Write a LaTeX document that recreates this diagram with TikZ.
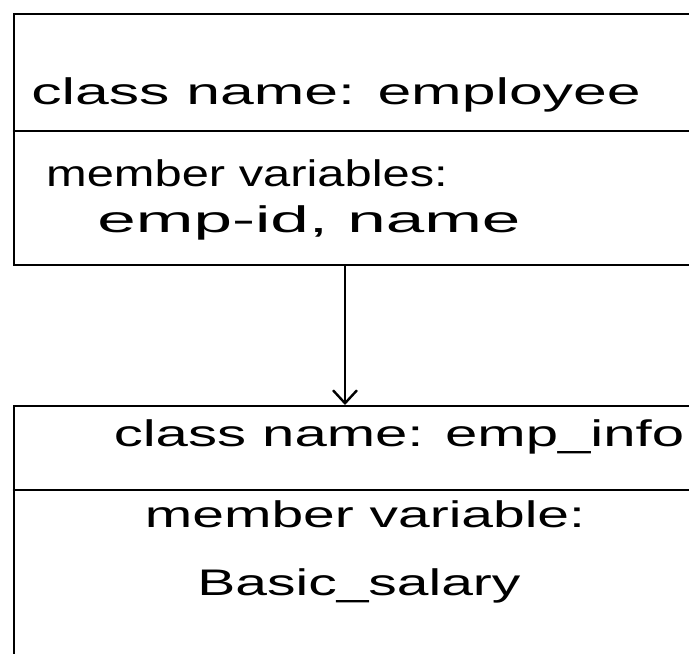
\documentclass[tikz,border=0pt]{standalone}
\usepackage{fontspec}
\usepackage{graphicx}
\setmainfont{Liberation Sans}
\usetikzlibrary{arrows.meta}
\tikzset{
  line/.style={line width=2.6pt, line cap=round},
  lbl/.style={anchor=base, inner sep=0pt, font=\fontsize{37}{40}\selectfont},
  arr/.style={line width=2pt, -{Straight Barb[length=13pt,width=24pt,line width=2.4pt]}}
}
\begin{document}
\begin{tikzpicture}[x=1pt,y=-1pt]
\useasboundingbox (0,0) rectangle (689,654);
% top box
\draw[line] (689,14) -- (14,14) -- (14,265) -- (689,265);
\draw[line] (14,131) -- (689,131);
% bottom box
\draw[line] (689,406) -- (14,406) -- (14,654);
\draw[line] (14,490) -- (689,490);
% texts
\node[lbl] (t1) at (336,104) {\scalebox{1.64}[1]{class name: employee}};
\node[lbl] (t2) at (247,186) {\scalebox{1.32}[1]{member variables:}};
\node[lbl] (t3) at (309,232) {\scalebox{1.87}[1]{emp-id, name}};
\node[lbl] (t4) at (399,446) {\scalebox{1.57}[1]{class name: emp\_info}};
\node[lbl] (t5) at (365,527) {\scalebox{1.54}[1]{member variable:}};
\node[lbl] (t6) at (359,595) {\scalebox{1.54}[1]{Basic\_salary}};
% arrow
\coordinate (a1) at (345,265);
\coordinate (a2) at (345,405);
\draw[arr] (a1) -- (a2);
\end{tikzpicture}
\end{document}
